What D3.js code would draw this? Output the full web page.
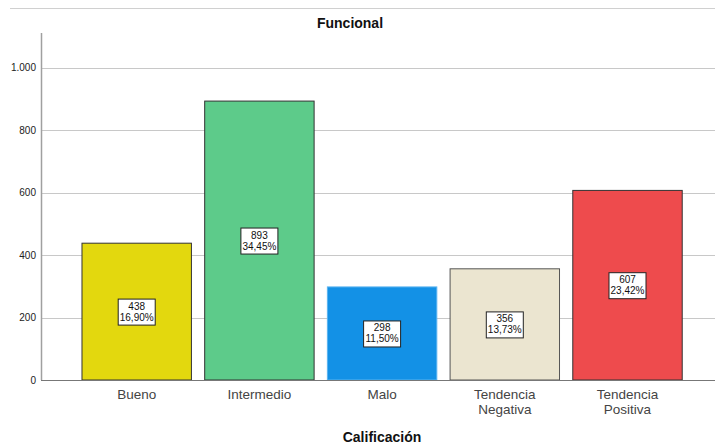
<!DOCTYPE html>
<html><head><meta charset="utf-8">
<script src="https://cdn.jsdelivr.net/npm/d3@7"></script>
<style>body{margin:0;background:#fff}svg{display:block;font-family:"Liberation Sans",Arial,sans-serif}</style>
</head><body>
<svg id="c" width="715" height="447"></svg>
<script>
const categories = [["Bueno"],["Intermedio"],["Malo"],["Tendencia","Negativa"],["Tendencia","Positiva"]];
const counts = [438, 893, 298, 356, 607];
const percents = ["16,90%","34,45%","11,50%","13,73%","23,42%"];
const yTicks = [0,200,400,600,800,1000];
const fills = ["#e3d80e","#5dcb8a","#1391e6","#ebe5d0","#ee4b4d"];
const strokes = ["#333","#333","#5ab4f0","#555","#333"];

const svg = d3.select("#c");
const y = d3.scaleLinear().domain([0,1110]).range([380,33.3]);
const x = d3.scaleBand().domain(d3.range(5)).range([75.35,688.85]).paddingInner(0.1).paddingOuter(0.05);

svg.append("line").attr("x1",10).attr("x2",715).attr("y1",8.5).attr("y2",8.5).attr("stroke","#d0d0d0");

// gridlines
svg.append("g").selectAll("line").data(yTicks.slice(1)).join("line")
  .attr("x1",41).attr("x2",715).attr("y1",d=>Math.round(y(d))+0.5).attr("y2",d=>Math.round(y(d))+0.5)
  .attr("stroke","#c8c8c8");

// y tick labels
const fmt = d => d>=1000 ? d3.format(",")(d).replace(/,/g,".") : String(d);
svg.append("g").selectAll("text").data(yTicks).join("text")
  .attr("x",36).attr("y",d=>y(d)+3.5).attr("text-anchor","end")
  .attr("font-size",10).attr("fill","#222").text(fmt);

// bars
svg.append("g").selectAll("rect").data(counts).join("rect")
  .attr("x",(d,i)=>x(i)+0.5).attr("width",x.bandwidth()-1)
  .attr("y",d=>y(d)).attr("height",d=>y(0)-y(d))
  .attr("fill",(d,i)=>fills[i]).attr("stroke",(d,i)=>strokes[i]).attr("stroke-width",1);

// axes lines
svg.append("line").attr("x1",41.5).attr("x2",41.5).attr("y1",33).attr("y2",380).attr("stroke","#a0a0a0").attr("stroke-width",1.5);
svg.append("line").attr("x1",41).attr("x2",715).attr("y1",380.5).attr("y2",380.5).attr("stroke","#777");

// value labels
const lab = svg.append("g").selectAll("g").data(counts).join("g")
  .attr("transform",(d,i)=>`translate(${x(i)+x.bandwidth()/2},${y(d/2)})`);
lab.append("rect").attr("x",-18.5).attr("y",-12.5).attr("width",37).attr("height",26)
  .attr("fill","#fff").attr("stroke","#222").attr("stroke-width",1);
lab.append("text").attr("text-anchor","middle").attr("y",-2).attr("font-size",10).attr("fill","#111").text(d=>d);
lab.append("text").attr("text-anchor","middle").attr("y",9).attr("font-size",10).attr("fill","#111").text((d,i)=>percents[i]);

// category labels
const cl = svg.append("g").selectAll("g").data(categories).join("g")
  .attr("transform",(d,i)=>`translate(${x(i)+x.bandwidth()/2},399)`);
cl.selectAll("text").data(d=>d).join("text")
  .attr("text-anchor","middle").attr("font-size",13.5).attr("fill","#444")
  .attr("y",(d,j)=>j*14.5).text(d=>d);

// titles
svg.append("text").attr("x",350).attr("y",28).attr("text-anchor","middle").attr("font-size",14).attr("font-weight","bold").attr("fill","#111").text("Funcional");
svg.append("text").attr("x",382).attr("y",442).attr("text-anchor","middle").attr("font-size",14).attr("font-weight","bold").attr("fill","#111").text("Calificación");
</script>
</body></html>
